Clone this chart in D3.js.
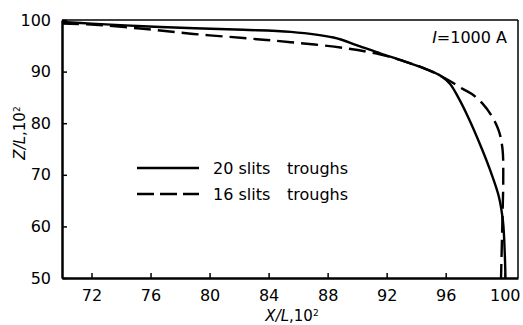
<!DOCTYPE html>
<html><head><meta charset="utf-8">
<script src="https://cdn.jsdelivr.net/npm/d3@7"></script>
<style>body{margin:0;background:#fff}svg{display:block}text{font-family:"DejaVu Sans",sans-serif;fill:#000}</style>
</head><body>
<script>
const xTicks = [72, 76, 80, 84, 88, 92, 96, 100];
const yTicks = [50, 60, 70, 80, 90, 100];
const slits20X = [70, 72, 75.5, 79, 82.3, 85.5, 88.4, 90, 91.6, 93.2, 94.75, 95.7, 96.3, 96.85, 97.5, 98.4, 99.0, 99.6, 99.88, 100.0, 100.05];
const slits20Z = [99.6, 99.3, 98.8, 98.4, 98.1, 97.7, 96.6, 95.1, 93.5, 92.0, 90.4, 89.1, 87.6, 85.0, 81.3, 75.4, 71.0, 65.8, 61.0, 55.0, 50.0];
const slits16X = [70, 72, 75.5, 78.9, 82.3, 85.5, 89.3, 91.6, 93.2, 94.75, 95.7, 96.4, 97.0, 97.8, 98.5, 99.1, 99.6, 99.85, 99.9, 99.85, 99.75];
const slits16Z = [99.3, 99.1, 98.3, 97.3, 96.5, 95.7, 94.5, 93.3, 92.0, 90.4, 89.1, 88.0, 86.9, 85.6, 83.8, 81.5, 78.5, 75.0, 69.0, 62.0, 50.0];
const legendLabels = ["20 slits", "16 slits"];
const legendSuffix = "troughs";

const W = 523, H = 325;
const m = {l: 62, t: 20, r: 5, b: 47};
const svg = d3.select("body").append("svg").attr("width", W).attr("height", H);
const x = d3.scaleLinear().domain([70, 100.9]).range([m.l, W - m.r]);
const y = d3.scaleLinear().domain([50, 100]).range([H - m.b, m.t]);

// frame
svg.append("line").attr("x1", x(70)).attr("x2", x(100.9)).attr("y1", y(100)).attr("y2", y(100)).attr("stroke", "#000").attr("stroke-width", 1.5);
svg.append("line").attr("x1", x(100.9)).attr("x2", x(100.9)).attr("y1", y(100)).attr("y2", y(50)).attr("stroke", "#000").attr("stroke-width", 1.5);

const xAxis = svg.append("g").attr("transform", `translate(0,${y(50)})`)
  .call(d3.axisBottom(x).tickValues(xTicks).tickSizeInner(-5).tickSizeOuter(0).tickPadding(12));
const yAxis = svg.append("g").attr("transform", `translate(${x(70)},0)`)
  .call(d3.axisLeft(y).tickValues(yTicks).tickSizeInner(-5).tickSizeOuter(0).tickPadding(11));
[xAxis, yAxis].forEach(g => {
  g.select(".domain").attr("stroke", "#000").attr("stroke-width", 2.5);
  g.selectAll(".tick line").attr("stroke", "#000").attr("stroke-width", 1.5);
  g.selectAll(".tick text").attr("font-size", 16).attr("font-family", "DejaVu Sans, sans-serif").attr("fill", "#000");
});

const line = d3.line().x(d => x(d[0])).y(d => y(d[1])).curve(d3.curveCatmullRom.alpha(0.5));
const d20 = slits20X.map((v, i) => [v, slits20Z[i]]);
const d16 = slits16X.map((v, i) => [v, slits16Z[i]]);
svg.append("path").attr("d", line(d20)).attr("fill", "none").attr("stroke", "#000").attr("stroke-width", 2.4);
svg.append("path").attr("d", line(d16)).attr("fill", "none").attr("stroke", "#000").attr("stroke-width", 2.4).attr("stroke-dasharray", "17,7");

// legend
const leg = [{y: 168, dash: null}, {y: 194, dash: "17,6"}];
leg.forEach((l, i) => {
  const ln = svg.append("line").attr("x1", 137).attr("x2", 199).attr("y1", l.y).attr("y2", l.y).attr("stroke", "#000").attr("stroke-width", 2.4);
  if (l.dash) ln.attr("stroke-dasharray", l.dash);
  svg.append("text").attr("x", 213).attr("y", l.y + 6).attr("font-size", 16).text(legendLabels[i]);
  svg.append("text").attr("x", 287).attr("y", l.y + 6).attr("font-size", 16).text(legendSuffix);
});

// annotation
const ann = svg.append("text").attr("x", 507).attr("y", 43).attr("font-size", 16).attr("text-anchor", "end");
ann.append("tspan").attr("font-style", "italic").text("I");
ann.append("tspan").text("=1000 A");

// axis titles
const xt = svg.append("text").attr("x", 292).attr("y", 321).attr("font-size", 15).attr("text-anchor", "middle");
xt.append("tspan").attr("font-style", "italic").text("X/L");
xt.append("tspan").text(",10");
xt.append("tspan").attr("font-size", 9).attr("dy", -5).text("2");

const yt = svg.append("text").attr("transform", "translate(25,133) rotate(-90)").attr("text-anchor", "middle").attr("font-size", 15);
yt.append("tspan").attr("font-style", "italic").text("Z/L");
yt.append("tspan").text(",10");
yt.append("tspan").attr("font-size", 9).attr("dy", -5).text("2");
</script>
</body></html>
